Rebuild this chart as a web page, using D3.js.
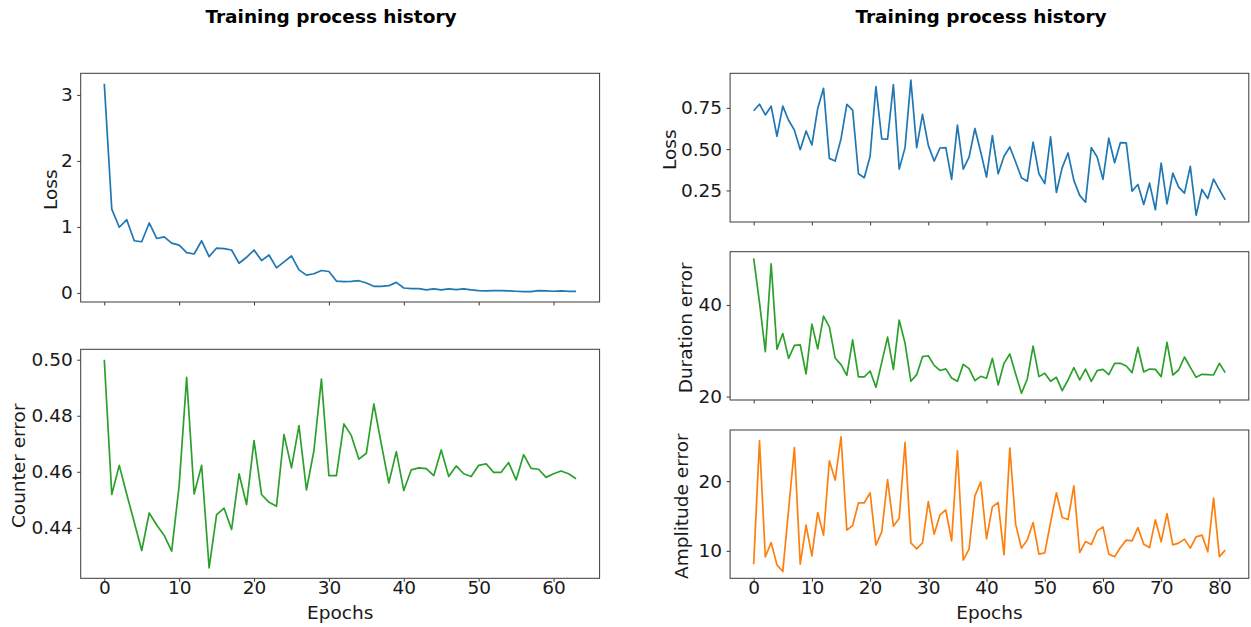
<!DOCTYPE html>
<html>
<head>
<meta charset="utf-8">
<script src="https://cdn.jsdelivr.net/npm/d3@7"></script>
<style>
  html, body { margin: 0; padding: 0; background: #fff; }
  svg { display: block; font-family: "DejaVu Sans", sans-serif; }
</style>
</head>
<body>
<svg id="chart" width="1251" height="627"></svg>
<script>
// ---- Counter model history (epochs 0..63) ----
const counterLoss = [3.17,1.27,0.995,1.11,0.79,0.775,1.06,0.825,0.85,0.755,
  0.725,0.61,0.59,0.79,0.55,0.68,0.67,0.65,0.45,0.54,
  0.65,0.49,0.575,0.38,0.47,0.56,0.35,0.27,0.29,0.34,
  0.325,0.18,0.17,0.175,0.185,0.15,0.10,0.10,0.11,0.16,
  0.075,0.065,0.065,0.045,0.06,0.045,0.06,0.05,0.06,0.045,
  0.035,0.03,0.035,0.035,0.03,0.025,0.02,0.02,0.035,0.03,
  0.025,0.03,0.025,0.025];
const counterError = [0.500,0.4519,0.4623,0.452,0.442,0.4319,0.4453,0.441,0.4373,0.4317,
  0.4551,0.4937,0.4521,0.4623,0.4257,0.4447,0.4470,0.4394,0.4593,0.4483,
  0.4711,0.4519,0.4491,0.4477,0.4733,0.4614,0.4765,0.4535,0.4676,0.4931,
  0.4586,0.4586,0.4771,0.4729,0.4645,0.4666,0.4842,0.4699,0.4560,0.4672,
  0.4533,0.4607,0.4614,0.4611,0.4586,0.4678,0.4583,0.4621,0.4593,0.4583,
  0.4623,0.4628,0.4598,0.4598,0.4633,0.4571,0.4661,0.4612,0.4609,0.4580,
  0.4593,0.4603,0.4593,0.4575];

// ---- Duration/amplitude model history (epochs 0..81) ----
const eventLoss = [0.732,0.772,0.707,0.760,0.578,0.760,0.675,0.615,0.497,0.610,
  0.525,0.746,0.868,0.444,0.428,0.562,0.771,0.736,0.351,0.327,
  0.457,0.878,0.562,0.560,0.890,0.379,0.509,0.918,0.509,0.710,
  0.523,0.428,0.507,0.509,0.317,0.645,0.379,0.452,0.625,0.483,
  0.331,0.582,0.351,0.457,0.513,0.422,0.327,0.306,0.543,0.351,
  0.291,0.574,0.238,0.388,0.477,0.311,0.220,0.179,0.509,0.452,
  0.317,0.566,0.418,0.540,0.538,0.246,0.286,0.165,0.294,0.133,
  0.416,0.169,0.355,0.270,0.234,0.396,0.100,0.256,0.201,0.319,
  0.254,0.193];
const durationError = [50.15,40.5,29.78,48.98,30.36,33.76,28.33,31.16,31.3,24.93,
  35.8,30.43,37.54,35.22,28.41,26.96,24.64,32.39,24.28,24.28,
  25.58,22.03,27.46,32.97,25.94,36.67,31.67,23.33,24.78,28.7,
  28.91,26.81,25.7,26.05,24.06,23.33,27.03,26.09,23.48,24.42,
  23.99,28.33,22.54,27.25,29.28,24.93,20.72,23.84,31.01,24.35,
  25.07,23.33,24.2,21.3,23.62,26.3,23.62,26.0,23.33,25.65,
  25.94,24.78,27.25,27.25,26.67,25.22,30.72,25.36,26.0,25.94,
  24.35,31.81,24.71,25.8,28.63,26.38,24.2,24.85,24.78,24.71,
  27.25,25.22];
const amplitudeError = [8.09,25.78,9.14,11.19,7.99,7.03,15.9,24.82,8.09,13.69,
  9.28,15.5,12.25,22.91,20.14,26.36,12.97,13.63,16.89,16.89,
  18.32,10.82,12.73,20.23,13.54,14.69,25.54,11.15,10.29,11.15,
  17.07,12.39,15.16,15.86,11.43,24.35,8.67,10.24,17.89,19.86,
  11.72,16.31,16.93,9.43,24.73,13.83,10.39,11.54,14.06,9.53,
  9.71,14.06,18.32,14.78,14.49,19.33,9.76,11.33,10.9,12.87,
  13.44,9.53,9.14,10.47,11.54,11.43,13.34,10.96,10.47,14.45,
  11.29,15.35,10.86,11.1,11.68,10.39,12.01,12.25,9.86,17.56,
  9.18,10.1];

// ---- Tick values and labels ----
const leftEpochTicks = [0, 10, 20, 30, 40, 50, 60];
const rightEpochTicks = [0, 10, 20, 30, 40, 50, 60, 70, 80];
const counterLossTicks = [0, 1, 2, 3];
const counterErrorTicks = [0.44, 0.46, 0.48, 0.50];
const eventLossTicks = [0.25, 0.50, 0.75];
const durationTicks = [20, 40];
const amplitudeTicks = [10, 20];
const titleText = "Training process history";
const xLabelText = "Epochs";

const BLUE = "#1f77b4", GREEN = "#2ca02c", ORANGE = "#ff7f0e";
const FONT = 18.5;
const INK = "#1a1a1a";

const svg = d3.select("#chart");
svg.append("rect").attr("width", 1251).attr("height", 627).attr("fill", "#fff");

// domain with 5% padding on each side
function padded(lo, hi) {
  const m = (hi - lo) * 0.05;
  return [lo - m, hi + m];
}

function panel(o) {
  const n = o.values.length;
  const x = d3.scaleLinear().domain(padded(0, n - 1)).range([o.left, o.right]);
  const [ymin, ymax] = d3.extent(o.values);
  const y = d3.scaleLinear().domain(padded(ymin, ymax)).range([o.bottom, o.top]);

  const g = svg.append("g");

  const line = d3.line().x((d, i) => x(i)).y(d => y(d));
  g.append("path").datum(o.values)
    .attr("d", line)
    .attr("fill", "none")
    .attr("stroke", o.color)
    .attr("stroke-width", 1.7)
    .attr("stroke-linejoin", "round");

  // frame
  g.append("rect")
    .attr("x", o.left).attr("y", o.top)
    .attr("width", o.right - o.left).attr("height", o.bottom - o.top)
    .attr("fill", "none").attr("stroke", "#3a3a3a").attr("stroke-width", 1);

  // y axis
  const ya = g.append("g").attr("transform", `translate(${o.left},0)`)
    .call(d3.axisLeft(y).tickValues(o.yTicks).tickFormat(o.yFmt).tickSize(3.5).tickPadding(4.5));
  ya.select(".domain").remove();
  ya.selectAll("line").attr("stroke", "#3a3a3a");
  ya.selectAll("text").attr("font-size", FONT).attr("fill", INK)
    .attr("font-family", "DejaVu Sans, sans-serif");

  // x axis
  const xa = g.append("g").attr("transform", `translate(0,${o.bottom})`)
    .call(d3.axisBottom(x).tickValues(o.xTicks).tickFormat(o.showX ? d3.format("d") : () => "").tickSize(3.5).tickPadding(4.5));
  xa.select(".domain").remove();
  xa.selectAll("line").attr("stroke", "#3a3a3a");
  xa.selectAll("text").attr("font-size", FONT).attr("fill", INK)
    .attr("font-family", "DejaVu Sans, sans-serif")
    .attr("dy", null).attr("y", 15.5);

  // y label
  const cy = (o.top + o.bottom) / 2 + 2;
  g.append("text")
    .attr("transform", `translate(${o.yLabelX},${cy}) rotate(-90)`)
    .attr("text-anchor", "middle")
    .attr("font-size", FONT).attr("fill", INK)
    .text(o.yLabel);

  if (o.showX) {
    g.append("text")
      .attr("x", (o.left + o.right) / 2).attr("y", o.bottom + 41)
      .attr("text-anchor", "middle")
      .attr("font-size", FONT).attr("fill", INK)
      .text(xLabelText);
  }
}

// Left column: counter model
const L = { left: 80.7, right: 599.6 };
panel({ ...L, top: 73.3, bottom: 302, values: counterLoss, color: BLUE,
  yTicks: counterLossTicks, yFmt: d3.format("d"), yLabel: "Loss", yLabelX: 56.5,
  xTicks: leftEpochTicks, showX: false });
panel({ ...L, top: 349.3, bottom: 578.3, values: counterError, color: GREEN,
  yTicks: counterErrorTicks, yFmt: d3.format(".2f"), yLabel: "Counter error", yLabelX: 25,
  xTicks: leftEpochTicks, showX: true });

// Right column: duration / amplitude model
const R = { left: 730.1, right: 1248.8 };
panel({ ...R, top: 73.3, bottom: 222, values: eventLoss, color: BLUE,
  yTicks: eventLossTicks, yFmt: d3.format(".2f"), yLabel: "Loss", yLabelX: 676,
  xTicks: rightEpochTicks, showX: false });
panel({ ...R, top: 251.7, bottom: 400, values: durationError, color: GREEN,
  yTicks: durationTicks, yFmt: d3.format("d"), yLabel: "Duration error", yLabelX: 692.3,
  xTicks: rightEpochTicks, showX: false });
panel({ ...R, top: 430, bottom: 578.3, values: amplitudeError, color: ORANGE,
  yTicks: amplitudeTicks, yFmt: d3.format("d"), yLabel: "Amplitude error", yLabelX: 688.3,
  xTicks: rightEpochTicks, showX: true });

// Column titles
[331, 981].forEach(cx => {
  svg.append("text")
    .attr("x", cx).attr("y", 22.5)
    .attr("text-anchor", "middle")
    .attr("font-size", FONT).attr("font-weight", "bold").attr("fill", "#000")
    .text(titleText);
});
</script>
</body>
</html>
